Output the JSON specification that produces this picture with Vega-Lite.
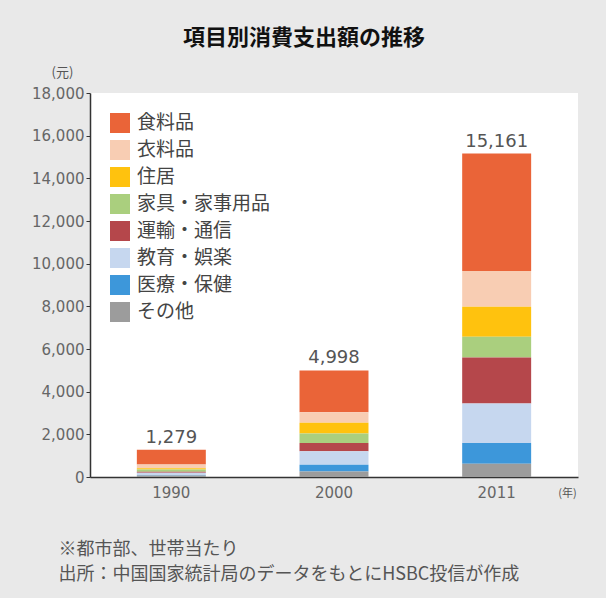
{
  "$schema": "https://vega.github.io/schema/vega-lite/v6.json",
  "width": 488,
  "height": 384,
  "autosize": "none",
  "padding": {"left": 90, "top": 93, "right": 28, "bottom": 121},
  "background": "#E9E9E9",
  "title": {
    "text": "項目別消費支出額の推移",
    "font": "Noto Sans CJK JP",
    "fontSize": 22,
    "fontWeight": "bold",
    "color": "#111111",
    "anchor": "middle",
    "dx": -30,
    "offset": 16
  },
  "config": {"view": {"fill": "white", "stroke": null}},
  "data": {
    "values": [
      {"year": "1990", "item": "食料品", "k": 8, "value": 693.77},
      {"year": "1990", "item": "衣料品", "k": 7, "value": 170.90},
      {"year": "1990", "item": "住居", "k": 6, "value": 60.86},
      {"year": "1990", "item": "家具・家事用品", "k": 5, "value": 108.45},
      {"year": "1990", "item": "運輸・通信", "k": 4, "value": 40.51},
      {"year": "1990", "item": "教育・娯楽", "k": 3, "value": 112.26},
      {"year": "1990", "item": "医療・保健", "k": 2, "value": 25.67},
      {"year": "1990", "item": "その他", "k": 1, "value": 66.57},
      {"year": "2000", "item": "食料品", "k": 8, "value": 1958.31},
      {"year": "2000", "item": "衣料品", "k": 7, "value": 500.46},
      {"year": "2000", "item": "住居", "k": 6, "value": 500.49},
      {"year": "2000", "item": "家具・家事用品", "k": 5, "value": 439.29},
      {"year": "2000", "item": "運輸・通信", "k": 4, "value": 395.01},
      {"year": "2000", "item": "教育・娯楽", "k": 3, "value": 627.82},
      {"year": "2000", "item": "医療・保健", "k": 2, "value": 318.07},
      {"year": "2000", "item": "その他", "k": 1, "value": 258.54},
      {"year": "2011", "item": "食料品", "k": 8, "value": 5506.33},
      {"year": "2011", "item": "衣料品", "k": 7, "value": 1674.70},
      {"year": "2011", "item": "住居", "k": 6, "value": 1405.01},
      {"year": "2011", "item": "家具・家事用品", "k": 5, "value": 977.50},
      {"year": "2011", "item": "運輸・通信", "k": 4, "value": 2149.69},
      {"year": "2011", "item": "教育・娯楽", "k": 3, "value": 1851.74},
      {"year": "2011", "item": "医療・保健", "k": 2, "value": 968.98},
      {"year": "2011", "item": "その他", "k": 1, "value": 626.94}
    ]
  },
  "layer": [
    {
      "mark": {"type": "bar"},
      "encoding": {
        "x": {
          "field": "year",
          "type": "nominal",
          "scale": {"paddingInner": 0.576, "paddingOuter": 0.288},
          "axis": {
            "orient": "bottom",
            "title": "(年)",
            "titleX": 477,
            "titleY": 16,
            "titleAngle": 0,
            "titleAlign": "center",
            "titleBaseline": "middle",
            "titleFont": "Noto Sans CJK JP",
            "titleFontSize": 11,
            "titleFontWeight": "normal",
            "titleColor": "#555555",
            "labelAngle": 0,
            "labelFont": "DejaVu Sans",
            "labelFontSize": 15,
            "labelColor": "#666666",
            "labelPadding": 8,
            "ticks": false,
            "domainColor": "#333333",
            "domainWidth": 1.5
          }
        },
        "y": {
          "field": "value",
          "type": "quantitative",
          "stack": "zero",
          "scale": {"domain": [0, 18000]},
          "axis": {
            "title": "(元)",
            "titleX": -28,
            "titleY": -21,
            "titleAngle": 0,
            "titleAlign": "center",
            "titleBaseline": "middle",
            "titleFont": "Noto Sans CJK JP",
            "titleFontSize": 13,
            "titleFontWeight": "normal",
            "titleColor": "#555555",
            "values": [0, 2000, 4000, 6000, 8000, 10000, 12000, 14000, 16000, 18000],
            "format": ",.0f",
            "labelFont": "DejaVu Sans",
            "labelFontSize": 15,
            "labelColor": "#666666",
            "labelPadding": 2,
            "tickSize": 4,
            "tickColor": "#333333",
            "domainColor": "#333333",
            "domainWidth": 1.5,
            "grid": false
          }
        },
        "color": {
          "field": "item",
          "type": "nominal",
          "scale": {
            "domain": ["食料品", "衣料品", "住居", "家具・家事用品", "運輸・通信", "教育・娯楽", "医療・保健", "その他"],
            "range": ["#EA6438", "#F8CDB3", "#FFC20E", "#AACF7E", "#B5474B", "#C6D7EF", "#3D97DA", "#9C9C9C"]
          },
          "legend": {
            "orient": "top-left",
            "offset": 20,
            "title": null,
            "symbolType": "square",
            "symbolSize": 400,
            "symbolStrokeWidth": 0,
            "labelFont": "Noto Sans CJK JP",
            "labelFontSize": 19,
            "labelColor": "#444444",
            "labelOffset": 7,
            "rowPadding": 7
          }
        },
        "order": {"field": "k", "type": "quantitative", "sort": "ascending"}
      }
    },
    {
      "mark": {"type": "text", "font": "DejaVu Sans", "fontSize": 18, "color": "#555555", "baseline": "alphabetic", "dy": -7},
      "encoding": {
        "x": {
          "field": "year",
          "type": "nominal",
          "axis": {
            "orient": "bottom",
            "labels": false,
            "ticks": false,
            "domain": false,
            "title": ["※都市部、世帯当たり", "出所：中国国家統計局のデータをもとにHSBC投信が作成"],
            "titleX": -32,
            "titleY": 72,
            "titleAngle": 0,
            "titleAlign": "left",
            "titleBaseline": "middle",
            "titleLineHeight": 25,
            "titleFont": "Noto Sans CJK JP",
            "titleFontSize": 18,
            "titleFontWeight": "normal",
            "titleColor": "#555555"
          }
        },
        "y": {
          "aggregate": "sum",
          "field": "value",
          "type": "quantitative",
          "scale": {"domain": [0, 18000]},
          "axis": null
        },
        "text": {"aggregate": "sum", "field": "value", "type": "quantitative", "format": ",.0f"}
      }
    }
  ],
  "resolve": {"axis": {"x": "independent", "y": "independent"}}
}
